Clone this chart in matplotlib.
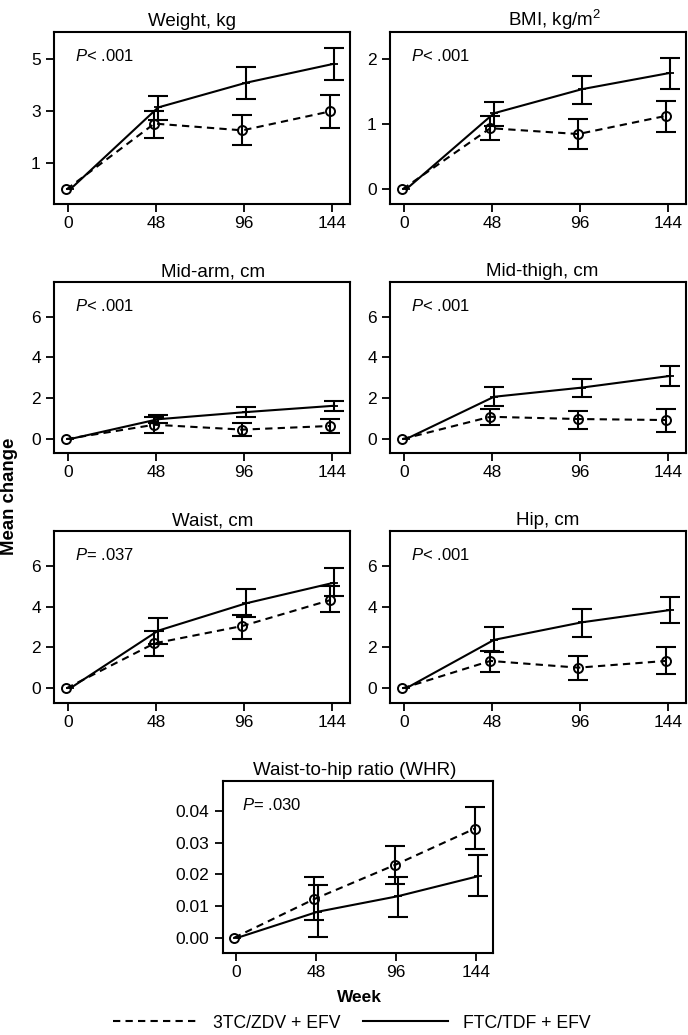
import matplotlib
matplotlib.use("Agg")
import matplotlib.pyplot as plt
from matplotlib.lines import Line2D
import numpy as np

plt.rcParams['font.family'] = ['Liberation Sans', 'DejaVu Sans']
plt.rcParams['mathtext.fontset'] = 'custom'
plt.rcParams['mathtext.rm'] = 'Liberation Sans'
plt.rcParams['mathtext.it'] = 'Liberation Sans:italic'

# ---------------- data ----------------
weeks = [0, 48, 96, 144]
week_labels = ["0", "48", "96", "144"]
series_names = ["3TC/ZDV + EFV", "FTC/TDF + EFV"]

titles = ["Weight, kg", r"BMI, kg/m$^2$", "Mid-arm, cm", "Mid-thigh, cm",
          "Waist, cm", "Hip, cm", "Waist-to-hip ratio (WHR)"]
p_texts = [r"$P$< .001", r"$P$< .001", r"$P$< .001", r"$P$< .001",
           r"$P$= .037", r"$P$< .001", r"$P$= .030"]

# 3TC/ZDV + EFV (dashed, open circles): mean, lower, upper
zdv_mean = [
    [0, 2.53, 2.27, 3.00],
    [0, 0.94, 0.85, 1.13],
    [0, 0.70, 0.46, 0.64],
    [0, 1.09, 0.98, 0.93],
    [0, 2.20, 3.05, 4.32],
    [0, 1.34, 1.01, 1.34],
    [0, 0.0122, 0.0229, 0.0344],
]
zdv_lo = [
    [0, 1.97, 1.69, 2.37],
    [0, 0.76, 0.62, 0.88],
    [0, 0.28, 0.15, 0.31],
    [0, 0.69, 0.49, 0.36],
    [0, 1.60, 2.40, 3.72],
    [0, 0.82, 0.41, 0.70],
    [0, 0.0056, 0.0169, 0.0281],
]
zdv_hi = [
    [0, 3.02, 2.87, 3.62],
    [0, 1.13, 1.08, 1.36],
    [0, 1.10, 0.77, 0.96],
    [0, 1.47, 1.39, 1.47],
    [0, 2.81, 3.59, 5.00],
    [0, 1.83, 1.60, 2.04],
    [0, 0.0190, 0.0289, 0.0413],
]
# FTC/TDF + EFV (solid)
tdf_mean = [
    [0, 3.15, 4.10, 4.83],
    [0, 1.17, 1.54, 1.79],
    [0, 0.97, 1.32, 1.63],
    [0, 2.07, 2.52, 3.09],
    [0, 2.82, 4.16, 5.17],
    [0, 2.37, 3.23, 3.83],
    [0, 0.0082, 0.0131, 0.0194],
]
tdf_lo = [
    [0, 2.65, 3.49, 4.19],
    [0, 0.98, 1.31, 1.55],
    [0, 0.77, 1.09, 1.39],
    [0, 1.62, 2.07, 2.61],
    [0, 2.17, 3.51, 4.54],
    [0, 1.76, 2.53, 3.18],
    [0, 0.0001, 0.0066, 0.0131],
]
tdf_hi = [
    [0, 3.60, 4.69, 5.43],
    [0, 1.35, 1.74, 2.02],
    [0, 1.18, 1.58, 1.88],
    [0, 2.53, 2.92, 3.59],
    [0, 3.43, 4.85, 5.87],
    [0, 3.02, 3.87, 4.45],
    [0, 0.0166, 0.0192, 0.0262],
]

yticks = [[1, 3, 5], [0, 1, 2], [0, 2, 4, 6], [0, 2, 4, 6],
          [0, 2, 4, 6], [0, 2, 4, 6], [0.00, 0.01, 0.02, 0.03, 0.04]]
ytick_fmt = ["{:g}"] * 6 + ["{:.2f}"]

# ---------------- layout (styles) ----------------
W, H = 688, 1035
fig = plt.figure(figsize=(W / 100, H / 100), dpi=100)

def box(x0, y0, x1, y1):
    return [x0 / W, 1 - y1 / H, (x1 - x0) / W, (y1 - y0) / H]

rects = [box(54, 32, 350, 204.5), box(390, 32, 685.7, 204.5),
         box(54, 281.7, 350, 453.3), box(390, 281.7, 685.7, 453.3),
         box(54, 531, 350, 703), box(390, 531, 685.7, 703),
         box(222.7, 781, 492.7, 952.7)]
ylims = [(-0.58, 6.05), (-0.234, 2.42), (-0.70, 7.71), (-0.70, 7.71),
         (-0.72, 7.70), (-0.72, 7.70), (-0.0047, 0.0494)]
title_x = [0.465, 0.555, 0.537, 0.514, 0.535, 0.534, 0.49]
xoff = 1.0
lw = 1.5
dash = (0, (3.5, 2.5))

for i in range(7):
    ax = fig.add_axes(rects[i])
    x = np.array(weeks, dtype=float)
    zm, zl, zh = map(np.array, (zdv_mean[i], zdv_lo[i], zdv_hi[i]))
    tm, tl, th = map(np.array, (tdf_mean[i], tdf_lo[i], tdf_hi[i]))

    # dashed series
    ax.plot(x - xoff, zm, color='black', lw=lw, linestyle=dash,
            marker='o', markersize=6.5, markerfacecolor='none',
            markeredgewidth=1.4, zorder=3)
    ax.errorbar(x[1:] - xoff, zm[1:], yerr=[zm[1:] - zl[1:], zh[1:] - zm[1:]],
                fmt='none', ecolor='black', elinewidth=lw, capsize=7,
                capthick=lw, zorder=3)
    # solid series
    ax.plot(x + xoff, tm, color='black', lw=lw, linestyle='-',
            marker='_', markersize=6, markeredgewidth=1.3, zorder=3)
    ax.errorbar(x[1:] + xoff, tm[1:], yerr=[tm[1:] - tl[1:], th[1:] - tm[1:]],
                fmt='none', ecolor='black', elinewidth=lw, capsize=7,
                capthick=lw, zorder=3)

    ax.set_xlim(-7.8, 153.7)
    ax.set_ylim(*ylims[i])
    ax.set_xticks(weeks)
    ax.set_xticklabels(week_labels)
    ax.set_yticks(yticks[i])
    ax.set_yticklabels([ytick_fmt[i].format(v) for v in yticks[i]])
    ax.tick_params(axis='both', labelsize=12.5, length=6, width=1.3,
                   direction='out', color='black')
    ax.tick_params(axis='x', pad=2.5)
    ax.tick_params(axis='y', pad=3.5)
    for s in ax.spines.values():
        s.set_linewidth(1.5)
    ax.set_title(titles[i], fontsize=13.5, pad=4, x=title_x[i])
    ax.text(0.07, 0.86, p_texts[i], transform=ax.transAxes, fontsize=12,
            ha='left', va='center')

fig.text(9.5 / W, 1 - 496 / H, "Mean change", rotation=90, fontsize=13.4,
         fontweight='bold', ha='center', va='center')
fig.text(359 / W, 1 - 998 / H, "Week", fontsize=12.5, fontweight='bold',
         ha='center', va='center')

handles = [Line2D([], [], color='black', lw=lw, linestyle=dash),
           Line2D([], [], color='black', lw=lw, linestyle='-')]
fig.legend(handles, series_names, loc='center',
           bbox_to_anchor=(352 / W, 1 - 1023 / H), ncol=2, frameon=False,
           fontsize=12.7, handlelength=4.8, handletextpad=0.85,
           columnspacing=1.3, borderaxespad=0, borderpad=0)

fig.savefig("out.png", dpi=100)
